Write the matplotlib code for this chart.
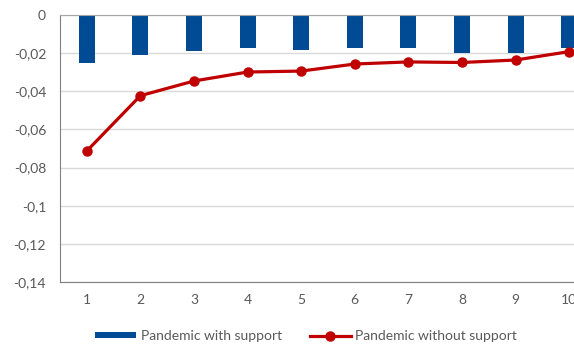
import numpy as np
import matplotlib.pyplot as plt
from matplotlib.ticker import FixedLocator

# Data
periods = [1, 2, 3, 4, 5, 6, 7, 8, 9, 10]
with_support = [-0.025, -0.0208, -0.0189, -0.0175, -0.0186, -0.0175, -0.0175, -0.0198, -0.0198, -0.0175]
without_support = [-0.0713, -0.0423, -0.0346, -0.0299, -0.0294, -0.0257, -0.0246, -0.0249, -0.0236, -0.0192]
y_ticks = [0, -0.02, -0.04, -0.06, -0.08, -0.1, -0.12, -0.14]

bar_color = "#004B93"
line_color = "#C00000"
text_color = "#595959"

plt.rcParams["font.family"] = ["Lato", "DejaVu Sans"]


def excel_label(v):
    # Excel "General" style with a decimal comma
    if v == 0:
        return "0"
    return f"{v:.2f}".rstrip("0").replace(".", ",")


fig = plt.figure(figsize=(5.74, 3.46), dpi=100)
# plot area runs past the right edge, like the cropped original
ax = fig.add_axes([60 / 574, (346 - 282) / 346, 536 / 574, 267 / 346])

x = np.array(periods)
bars = ax.bar(x, with_support, width=0.3, color=bar_color, label="Pandemic with support", zorder=2)
line, = ax.plot(x, without_support, color=line_color, linewidth=2.3, marker="o", markersize=6.5,
                label="Pandemic without support", zorder=3)

ax.set_xlim(0.5, 10.5)
ax.set_ylim(-0.14, 0)
ax.yaxis.set_major_locator(FixedLocator(y_ticks))
ax.set_yticklabels([excel_label(v) for v in y_ticks])
ax.set_xticks(periods)
ax.set_xticklabels([str(p) for p in periods])

ax.grid(axis="y", color="#D9D9D9", linewidth=1.0, zorder=0)
ax.tick_params(axis="both", length=0, labelsize=10, colors=text_color)
ax.tick_params(axis="y", pad=10)
ax.tick_params(axis="x", pad=9)
ax.spines["right"].set_visible(False)
ax.spines["top"].set_color("#A6A6A6")
ax.spines["left"].set_color("#808080")
ax.spines["bottom"].set_color("#808080")

fig.legend(handles=[bars, line], loc="center", bbox_to_anchor=(306 / 574, 1 - 336 / 346), ncol=2,
           frameon=False, fontsize=10, labelcolor=text_color, handlelength=3.0, handleheight=0.35,
           columnspacing=2.0, handletextpad=0.3)

fig.savefig("out.png", dpi=100)
